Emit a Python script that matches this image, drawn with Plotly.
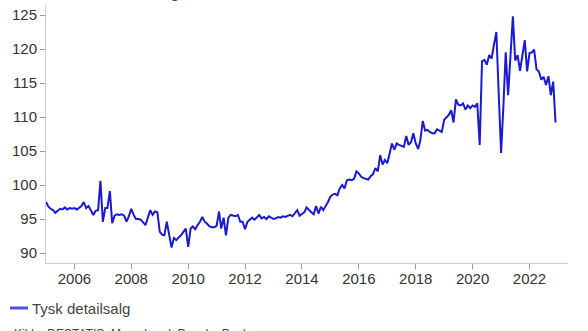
import plotly.graph_objects as go
import pandas as pd

series_name = "Tysk detailsalg"
start_month = "2005-01-01"
v2005 = [97.5, 96.8, 96.5, 96.3, 95.9, 96.2, 96.5, 96.4, 96.7, 96.4, 96.6, 96.5]
v2006 = [96.6, 96.4, 96.6, 96.9, 97.5, 96.6, 96.9, 96.3, 95.6, 96.2, 96.3, 100.6]
v2007 = [94.6, 96.6, 96.6, 99.1, 94.4, 95.5, 95.7, 95.6, 95.7, 95.5, 94.6, 95.4]
v2008 = [96.5, 95.6, 95.0, 95.0, 94.9, 94.5, 94.1, 95.2, 96.3, 95.6, 96.1, 96.0]
v2009 = [93.1, 92.7, 92.6, 94.6, 92.4, 90.8, 92.2, 91.9, 92.3, 92.6, 93.1, 93.6]
v2010 = [90.9, 93.6, 93.9, 93.5, 94.1, 94.6, 95.3, 94.6, 94.3, 93.9, 93.8, 93.8]
v2011 = [94.0, 96.1, 93.6, 95.2, 92.6, 95.2, 95.6, 95.5, 95.4, 95.6, 94.6, 94.6]
v2012 = [93.5, 94.6, 94.9, 95.2, 94.9, 95.3, 95.6, 95.1, 95.3, 95.0, 95.4, 95.2]
v2013 = [95.0, 95.1, 95.3, 95.2, 95.4, 95.3, 95.5, 95.6, 95.4, 95.8, 96.3, 95.5]
v2014 = [95.8, 96.0, 96.7, 96.3, 96.0, 95.7, 96.9, 95.8, 96.8, 96.3, 96.9, 97.5]
v2015 = [98.3, 98.6, 98.7, 98.5, 99.5, 100.0, 99.5, 100.7, 100.8, 100.7, 100.9, 102.0]
v2016 = [101.7, 101.2, 101.0, 100.9, 100.8, 101.3, 101.6, 102.5, 102.0, 104.4, 103.0, 103.7]
v2017 = [103.2, 104.7, 106.1, 105.2, 106.1, 105.9, 105.7, 105.6, 107.2, 105.9, 106.3, 107.6]
v2018 = [106.1, 105.3, 106.6, 109.4, 108.0, 108.1, 107.8, 107.6, 107.6, 108.2, 108.0, 107.8]
v2019 = [109.6, 109.9, 110.3, 111.0, 109.2, 112.6, 111.8, 111.7, 112.0, 111.1, 111.7, 111.3]
v2020 = [111.7, 111.5, 112.0, 105.9, 118.2, 118.4, 117.7, 119.1, 118.6, 120.6, 122.5, 113.5]
v2021 = [104.7, 112.0, 119.5, 113.2, 119.0, 124.8, 118.3, 119.1, 116.8, 119.0, 121.3, 116.7]
v2022 = [119.4, 119.5, 119.9, 117.0, 116.7, 115.5, 115.9, 114.7, 116.0, 113.2, 115.2, 109.2]

values = (v2005 + v2006 + v2007 + v2008 + v2009 + v2010 + v2011 + v2012 + v2013
          + v2014 + v2015 + v2016 + v2017 + v2018 + v2019 + v2020 + v2021 + v2022)
dates = pd.date_range(start_month, periods=len(values), freq="MS")

title_text = "Realindeks, sæsonkorrigeret, 2015=100"
source_text = "Kilde: DESTATIS, Macrobond, Danske Bank"

FONT = "Liberation Sans, Arial, sans-serif"
W, H = 588, 331
L, R, T, B = 46, 20, 5, 68
pw, ph = W - L - R, H - T - B

def px(x):
    return (x - L) / pw

def py(y):
    return (H - B - y) / ph

fig = go.Figure()
fig.add_trace(go.Scatter(x=dates, y=values, mode="lines", name=series_name,
                         line=dict(color="#1a1ad0", width=2), showlegend=False))

fig.update_layout(
    width=W, height=H, margin=dict(l=L, r=R, t=T, b=B),
    paper_bgcolor="white", plot_bgcolor="white",
    font=dict(family=FONT, size=15, color="#333"),
    xaxis=dict(type="date", range=["2005-01-01", "2023-05-10"],
               tick0="2006-01-01", dtick="M24", tickformat="%Y",
               showgrid=False, zeroline=False, showline=True, linecolor="#ccc", linewidth=1,
               ticks="outside", ticklen=5, tickcolor="#999", tickwidth=1,
               ticklabelstandoff=-3,
               tickfont=dict(size=15, color="#333")),
    yaxis=dict(range=[88.53, 126.47], tick0=90, dtick=5,
               showgrid=False, zeroline=False, showline=True, linecolor="#ccc", linewidth=1,
               ticks="outside", ticklen=5, tickcolor="#999", tickwidth=1,
               tickfont=dict(size=15, color="#333")),
    shapes=[dict(type="line", xref="paper", yref="paper",
                 x0=px(10), x1=px(28), y0=py(308), y1=py(308),
                 line=dict(color="#4f4fe0", width=3))],
    annotations=[
        dict(text=series_name, xref="paper", yref="paper", x=px(30), y=py(308),
             xanchor="left", yanchor="middle", showarrow=False,
             font=dict(size=15, color="#444", family=FONT)),
        dict(text=source_text, xref="paper", yref="paper", x=px(12), y=py(325),
             xanchor="left", yanchor="top", showarrow=False,
             font=dict(size=12, color="#444", family=FONT)),
        dict(text=title_text, xref="paper", yref="paper", x=px(12), y=py(3),
             xanchor="left", yanchor="bottom", showarrow=False,
             font=dict(size=15, color="#444", family=FONT)),
    ],
)

fig.write_html("out.html")
